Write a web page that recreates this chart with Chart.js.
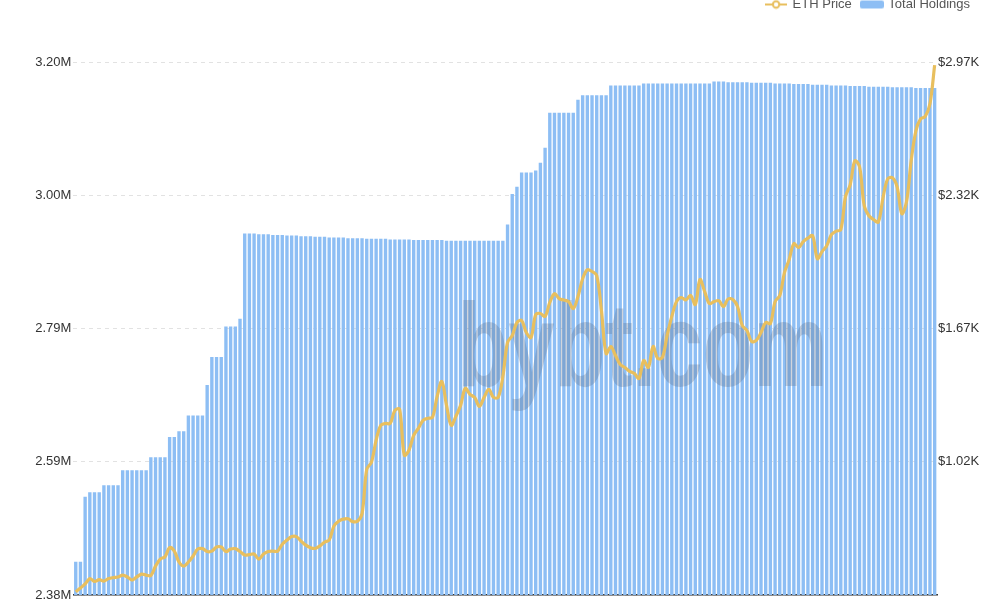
<!DOCTYPE html>
<html>
<head>
<meta charset="utf-8">
<script src="https://cdn.jsdelivr.net/npm/chart.js@4"></script>
<style>
  html, body { margin: 0; padding: 0; background: #fff; overflow: hidden; }
  #wrap { position: absolute; left: 0; top: -12px; width: 1000px; height: 620px; }
</style>
</head>
<body>
<div id="wrap"><canvas id="chart"></canvas></div>
<script>
// Total holdings (millions of ETH), one bar per day
const holdingsM = [
  2.431, 2.431, 2.531, 2.538, 2.538, 2.538, 2.549, 2.549, 2.549, 2.549,
  2.572, 2.572, 2.572, 2.572, 2.572, 2.572, 2.592, 2.592, 2.592, 2.592,
  2.623, 2.623, 2.632, 2.632, 2.656, 2.656, 2.656, 2.656, 2.703, 2.746,
  2.746, 2.746, 2.793, 2.793, 2.793, 2.805, 2.936, 2.936, 2.936, 2.935,
  2.935, 2.935, 2.934, 2.934, 2.934, 2.933, 2.933, 2.933, 2.932, 2.932,
  2.932, 2.931, 2.931, 2.931, 2.930, 2.930, 2.930, 2.930, 2.929, 2.929,
  2.929, 2.929, 2.928, 2.928, 2.928, 2.928, 2.928, 2.927, 2.927, 2.927,
  2.927, 2.927, 2.926, 2.926, 2.926, 2.926, 2.926, 2.926, 2.926, 2.925,
  2.925, 2.925, 2.925, 2.925, 2.925, 2.925, 2.925, 2.925, 2.925, 2.925,
  2.925, 2.925, 2.950, 2.997, 3.008, 3.030, 3.030, 3.030, 3.033, 3.045,
  3.068, 3.122, 3.122, 3.122, 3.122, 3.122, 3.122, 3.142, 3.149, 3.149,
  3.149, 3.149, 3.149, 3.149, 3.164, 3.164, 3.164, 3.164, 3.164, 3.164,
  3.164, 3.167, 3.167, 3.167, 3.167, 3.167, 3.167, 3.167, 3.167, 3.167,
  3.167, 3.167, 3.167, 3.167, 3.167, 3.167, 3.170, 3.170, 3.170, 3.169,
  3.169, 3.169, 3.169, 3.169, 3.168, 3.168, 3.168, 3.168, 3.168, 3.167,
  3.167, 3.167, 3.167, 3.166, 3.166, 3.166, 3.166, 3.165, 3.165, 3.165,
  3.165, 3.164, 3.164, 3.164, 3.164, 3.163, 3.163, 3.163, 3.163, 3.162,
  3.162, 3.162, 3.162, 3.162, 3.161, 3.161, 3.161, 3.161, 3.161, 3.160,
  3.160, 3.160, 3.160, 3.160
];

// ETH price (USD)
const ethPrice = [
  386, 404, 424, 450, 436, 445, 438, 450, 455, 458,
  467, 458, 443, 458, 472, 467, 465, 511, 545, 556,
  601, 584, 531, 511, 531, 560, 594, 596, 582, 584,
  604, 604, 582, 594, 596, 582, 565, 567, 570, 545,
  570, 582, 584, 584, 618, 638, 655, 655, 633, 613,
  601, 597, 609, 628, 638, 706, 730, 740, 742, 728,
  730, 767, 983, 1018, 1125, 1198, 1207, 1207, 1271, 1276,
  1052, 1076, 1149, 1183, 1222, 1232, 1237, 1339, 1412, 1295,
  1198, 1242, 1295, 1378, 1349, 1333, 1290, 1334, 1373, 1334,
  1334, 1436, 1602, 1636, 1699, 1709, 1650, 1626, 1738, 1743,
  1729, 1797, 1840, 1816, 1809, 1801, 1767, 1826, 1913, 1957,
  1948, 1928, 1758, 1548, 1582, 1538, 1495, 1480, 1461, 1451,
  1427, 1514, 1480, 1582, 1524, 1529, 1636, 1729, 1801, 1821,
  1809, 1831, 1787, 1909, 1850, 1792, 1801, 1806, 1777, 1814,
  1811, 1777, 1685, 1660, 1607, 1612, 1650, 1699, 1694, 1801,
  1831, 1943, 2006, 2084, 2065, 2094, 2111, 2123, 2011, 2045,
  2074, 2128, 2145, 2152, 2313, 2371, 2488, 2459, 2269, 2220,
  2201, 2189, 2308, 2400, 2405, 2361, 2230, 2288, 2488, 2634,
  2692, 2705, 2766, 2955
];

// one category per day (axis labels are not shown)
const startDate = new Date(Date.UTC(2020, 10, 1));
const days = holdingsM.map((_, i) => {
  const d = new Date(startDate.getTime() + i * 86400000);
  return d.toISOString().slice(0, 10);
});

const holdingsRange = [2.38, 3.20];   // millions
const priceRange = [370, 2970];       // USD

const gold = "#e8bf5e";
const blue = "#8dbef4";

Chart.defaults.font.family = "Helvetica, Arial, 'Liberation Sans', sans-serif";

function lineIcon() {
  const c = document.createElement("canvas");
  c.width = 22; c.height = 10;
  const g = c.getContext("2d");
  g.strokeStyle = gold; g.lineWidth = 2;
  g.beginPath(); g.moveTo(0, 5); g.lineTo(22, 5); g.stroke();
  g.beginPath(); g.arc(11, 5, 3.2, 0, Math.PI * 2);
  g.fillStyle = "#fff"; g.fill(); g.stroke();
  return c;
}

function boxIcon() {
  const c = document.createElement("canvas");
  c.width = 24; c.height = 10;
  const g = c.getContext("2d");
  g.fillStyle = blue;
  g.beginPath(); g.roundRect(0, 1, 24, 8, 2); g.fill();
  return c;
}

const watermark = {
  id: "watermark",
  afterDatasetDraw(chart, args) {
    if (args.meta.type !== "bar") return;
    const { ctx, chartArea } = chart;
    ctx.save();
    ctx.font = "bold 118px Helvetica, Arial, 'Liberation Sans', sans-serif";
    ctx.fillStyle = "rgba(90, 105, 130, 0.28)";
    ctx.textBaseline = "alphabetic";
    ctx.fillText("bybt.com", chartArea.left + 384, chartArea.top + 324, 370);
    ctx.restore();
  }
};

const ctx = document.getElementById("chart").getContext("2d");
new Chart(ctx, {
  type: "bar",
  data: {
    labels: days,
    datasets: [
      {
        type: "line",
        label: "ETH Price",
        data: ethPrice,
        borderColor: gold,
        borderWidth: 3.2,
        pointRadius: 0,
        tension: 0.35,
        yAxisID: "yPrice",
        order: 0,
      },
      {
        type: "bar",
        label: "Total Holdings",
        data: holdingsM,
        backgroundColor: blue,
        barPercentage: 0.72,
        categoryPercentage: 1,
        yAxisID: "yHold",
        order: 1,
      },
    ],
  },
  options: {
    responsive: true,
    maintainAspectRatio: false,
    animation: false,
    layout: { padding: { left: 0, right: 20, top: 0, bottom: 5 } },
    plugins: {
      tooltip: { enabled: false },
      legend: {
        position: "top",
        align: "end",
        labels: {
          usePointStyle: true,
          pointStyleWidth: 20,
          color: "#555",
          font: { size: 13 },
          padding: 10,
          generateLabels: (chart) => [
            { text: "ETH Price", pointStyle: lineIcon(), datasetIndex: 0, fontColor: "#555", lineWidth: 0 },
            { text: "Total Holdings", pointStyle: boxIcon(), datasetIndex: 1, fontColor: "#555", lineWidth: 0 },
          ],
        },
      },
    },
    scales: {
      x: {
        grid: { display: false },
        border: { display: true, color: "#333", width: 1.5 },
        ticks: { display: false },
      },
      // empty band between the legend and the plot
      xTop: {
        type: "category",
        position: "top",
        grid: { display: false },
        border: { display: false },
        ticks: { display: false },
        afterFit: (scale) => { scale.height = 41; },
      },
      yHold: {
        position: "left",
        min: holdingsRange[0],
        max: holdingsRange[1],
        afterFit: (scale) => { scale.width = 73.4; },
        border: { display: false, dash: [4, 4] },
        grid: { color: "#e2e2e2", drawTicks: false },
        ticks: {
          count: 5,
          padding: 2,
          color: "#333",
          font: { size: 13 },
          callback: (v) => (Math.round(v * 100) / 100).toFixed(2) + "M",
        },
      },
      yPrice: {
        position: "right",
        min: priceRange[0],
        max: priceRange[1],
        afterFit: (scale) => { scale.width = 43; },
        border: { display: false },
        grid: { display: false, drawTicks: false },
        ticks: {
          count: 5,
          padding: 1,
          color: "#333",
          font: { size: 13 },
          callback: (v) => (v <= priceRange[0] ? "" : "$" + (v / 1000).toFixed(2) + "K"),
        },
      },
    },
  },
  plugins: [watermark],
});
</script>
</body>
</html>
